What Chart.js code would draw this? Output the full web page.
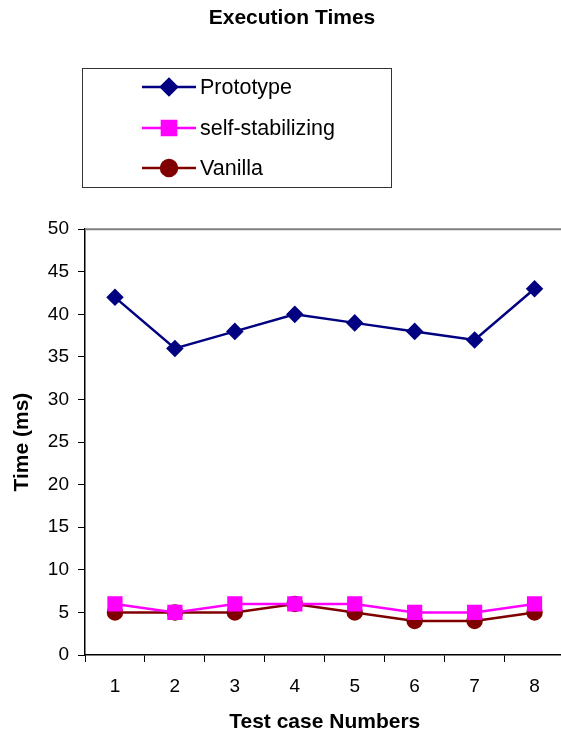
<!DOCTYPE html>
<html>
<head>
<meta charset="utf-8">
<script src="https://cdn.jsdelivr.net/npm/chart.js@4"></script>
<style>
  html, body { margin: 0; padding: 0; background: #fff; overflow: hidden; }
</style>
</head>
<body>
<canvas id="grafico" width="576" height="735"></canvas>
<script>
const casos = ['1', '2', '3', '4', '5', '6', '7', '8'];
const prototipo = [42, 36, 38, 40, 39, 38, 37, 43];
const autoEstable = [6, 5, 6, 6, 6, 5, 5, 6];
const vainilla = [5, 5, 5, 6, 5, 4, 4, 5];
const nombres = ['Prototype', 'self-stabilizing', 'Vanilla'];

const fuente = 'Liberation Sans, Arial, sans-serif';

// leyenda con caja, linea y marcador como en el original
const leyendaCaja = {
    id: 'leyendaCaja',
    afterDraw(chart) {
        const ctx = chart.ctx;
        ctx.save();
        ctx.strokeStyle = '#333';
        ctx.lineWidth = 1;
        ctx.strokeRect(82.5, 68.5, 309, 119);
        const filas = [87, 128, 168];
        chart.data.datasets.forEach((ds, i) => {
            const y = filas[i];
            ctx.strokeStyle = ds.borderColor;
            ctx.lineWidth = 2.5;
            ctx.beginPath();
            ctx.moveTo(142, y);
            ctx.lineTo(196, y);
            ctx.stroke();
            ctx.fillStyle = ds.pointBackgroundColor;
            ctx.strokeStyle = ds.borderColor;
            Chart.helpers.drawPoint(ctx, {
                pointStyle: ds.pointStyle, radius: ds.pointRadius + 1, rotation: 0, borderWidth: 1
            }, 169, y);
            ctx.fillStyle = '#000';
            ctx.font = '21.5px ' + fuente;
            ctx.textBaseline = 'middle';
            ctx.textAlign = 'left';
            ctx.fillText(ds.label, 200, y + 1);
        });
        // linea gris arriba del area
        const a = chart.chartArea;
        ctx.strokeStyle = '#808080';
        ctx.lineWidth = 2;
        ctx.beginPath();
        ctx.moveTo(a.left, a.top);
        ctx.lineTo(a.right, a.top);
        ctx.stroke();
        ctx.restore();
    }
};

new Chart(document.getElementById('grafico'), {
    type: 'line',
    data: {
        labels: casos,
        datasets: [
            {
                label: nombres[0],
                data: prototipo,
                borderColor: '#000080',
                backgroundColor: '#000080',
                pointBackgroundColor: '#000080',
                pointBorderColor: '#000080',
                pointStyle: 'rectRot',
                pointRadius: 7,
                borderWidth: 2.5
            },
            {
                label: nombres[1],
                data: autoEstable,
                borderColor: '#FF00FF',
                backgroundColor: '#FF00FF',
                pointBackgroundColor: '#FF00FF',
                pointBorderColor: '#FF00FF',
                pointStyle: 'rect',
                pointRadius: 9,
                borderWidth: 2.5
            },
            {
                label: nombres[2],
                data: vainilla,
                borderColor: '#800000',
                backgroundColor: '#800000',
                pointBackgroundColor: '#800000',
                pointBorderColor: '#800000',
                pointStyle: 'circle',
                pointRadius: 7,
                borderWidth: 2.5
            }
        ]
    },
    options: {
        responsive: false,
        animation: false,
        layout: { padding: { left: 8, right: 0, top: 0, bottom: 0 } },
        plugins: {
            legend: { display: false },
            tooltip: { enabled: false },
            title: {
                display: true,
                text: 'Execution Times',
                color: '#000',
                font: { family: fuente, size: 21, weight: 'bold' },
                padding: { top: 6, bottom: 198 }
            }
        },
        scales: {
            x: {
                offset: true,
                grid: { display: true, offset: true, drawOnChartArea: false, drawTicks: true, tickLength: 7, color: '#000' },
                border: { color: '#000', width: 1.5 },
                ticks: { color: '#000', font: { family: fuente, size: 19 }, padding: 13 },
                title: {
                    display: true,
                    text: 'Test case Numbers',
                    color: '#000',
                    font: { family: fuente, size: 21, weight: 'bold' },
                    padding: { top: 14, bottom: 0 }
                },
                afterFit(scale) { scale.height = 80; }
            },
            y: {
                min: 0,
                max: 50,
                ticks: { stepSize: 5, color: '#000', font: { family: fuente, size: 19 }, padding: 9 },
                grid: { drawOnChartArea: false, drawTicks: true, tickLength: 7, color: '#000' },
                border: { color: '#000', width: 1.5 },
                title: {
                    display: true,
                    text: 'Time (ms)',
                    color: '#000',
                    font: { family: fuente, size: 21, weight: 'bold' },
                    padding: { top: 2, bottom: 9 }
                },
                afterFit(scale) { scale.width = 77; }
            }
        }
    },
    plugins: [leyendaCaja]
});
</script>
</body>
</html>
